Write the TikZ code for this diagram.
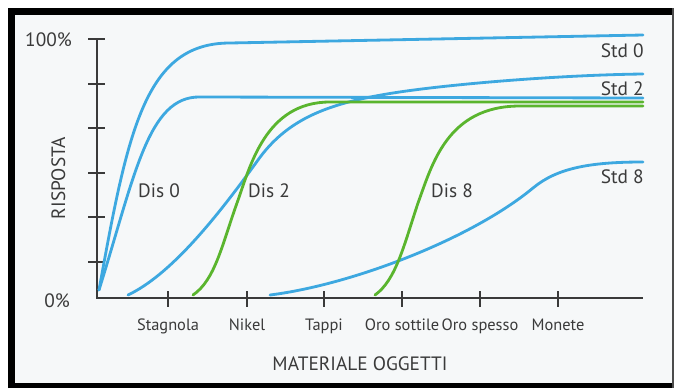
\documentclass[tikz,border=0pt]{standalone}
\usepackage{fontspec}
\setmainfont{PT Sans}
\definecolor{curveblue}{HTML}{3DA8E0}
\definecolor{curvegreen}{HTML}{5AB52E}
\definecolor{axisgray}{HTML}{3A3A3A}
\definecolor{paper}{HTML}{F6F8F9}
\begin{document}
\begin{tikzpicture}[
    x=0.03cm, y=-0.03cm,
    axis/.style={draw=axisgray, line width=1.6pt},
    tick/.style={draw=axisgray, line width=1.4pt},
    bluecurve/.style={draw=curveblue, line width=2.4pt, line cap=round},
    greencurve/.style={draw=curvegreen, line width=2.4pt, line cap=round},
    lbl/.style={font=\fontsize{16.5}{18}\selectfont, text=axisgray, inner sep=0pt},
    ticklbl/.style={font=\fontsize{14}{16}\selectfont, text=axisgray, inner sep=0pt},
  ]
  \useasboundingbox (0,0) rectangle (676,388);

  % Frame
  \fill[paper] (11,11) rectangle (673,385);
  \draw[line width=6pt] (11.5,388) -- (11.5,11.5) -- (673,11.5);
  \draw[line width=4.3pt] (8,385.5) -- (673,385.5);
  \draw[line width=1.5pt, black!70] (673,8) -- (673,388);

  % Axes
  \coordinate (orig) at (97,298);
  \coordinate (ytop) at (97,39);
  \coordinate (xend) at (643,298);
  \draw[axis] (ytop) -- (orig) -- (xend);
  \foreach \yy in {39,84,128,173,217,262}
    \draw[tick] (88,\yy) -- (105,\yy);
  \foreach \xx in {168,247,324,402,480,558}
    \draw[tick] (\xx,291) -- (\xx,307);

  % Axis labels
  \node[lbl, anchor=base east] (top) at (72,46) {100\%};
  \node[lbl, anchor=base east] (zero) at (70,307) {0\%};
  \node[lbl, anchor=base, rotate=90] (risp) at (65,178) {RISPOSTA};
  \node[lbl, anchor=base] (mat) at (360,370) {MATERIALE OGGETTI};

  % Materials
  \node[ticklbl, anchor=base] (stag) at (168,330) {Stagnola};
  \node[ticklbl, anchor=base] (nik) at (247,330) {Nikel};
  \node[ticklbl, anchor=base] (tap) at (324,330) {Tappi};
  \node[ticklbl, anchor=base] (osot) at (402,330) {Oro sottile};
  \node[ticklbl, anchor=base] (ospe) at (480,330) {Oro spesso};
  \node[ticklbl, anchor=base] (mon) at (558,330) {Monete};

  % Std 0
  \draw[bluecurve] (99,290) .. controls (128,130) and (145,43) .. (230,43) -- (643,35);
  % Std 2
  \draw[bluecurve] (99,290) .. controls (135,175) and (148,96) .. (200,97) -- (643,98);
  % blue from Stagnola
  \draw[bluecurve] (128,295) .. controls (170,275) and (215,220) .. (258,160)
    .. controls (288,118) and (330,103) .. (393,93)
    .. controls (450,84) and (560,75) .. (643,74);
  % Std 8
  \draw[bluecurve] (270,295) .. controls (350,285) and (470,240) .. (533,188)
    .. controls (557,168) and (590,162) .. (643,162);
  % Dis 2
  \draw[greencurve] (193,295) .. controls (215,280) and (222,245) .. (237,203)
    .. controls (250,167) and (265,102) .. (330,102) -- (643,102);
  % Dis 8
  \draw[greencurve] (375,295) .. controls (396,280) and (404,245) .. (418,203)
    .. controls (432,165) and (447,106) .. (520,106) -- (643,106);

  % Curve names
  \node[lbl, anchor=base west] (dis0) at (138,197) {Dis 0};
  \node[lbl, anchor=base west] (dis2) at (248,197) {Dis 2};
  \node[lbl, anchor=base west] (dis8) at (431,197) {Dis 8};
  \node[lbl, anchor=base east] (std0) at (644,57) {Std 0};
  \node[lbl, anchor=base east] (std2) at (644,95) {Std 2};
  \node[lbl, anchor=base east] (std8) at (644,183) {Std 8};

\end{tikzpicture}
\end{document}
